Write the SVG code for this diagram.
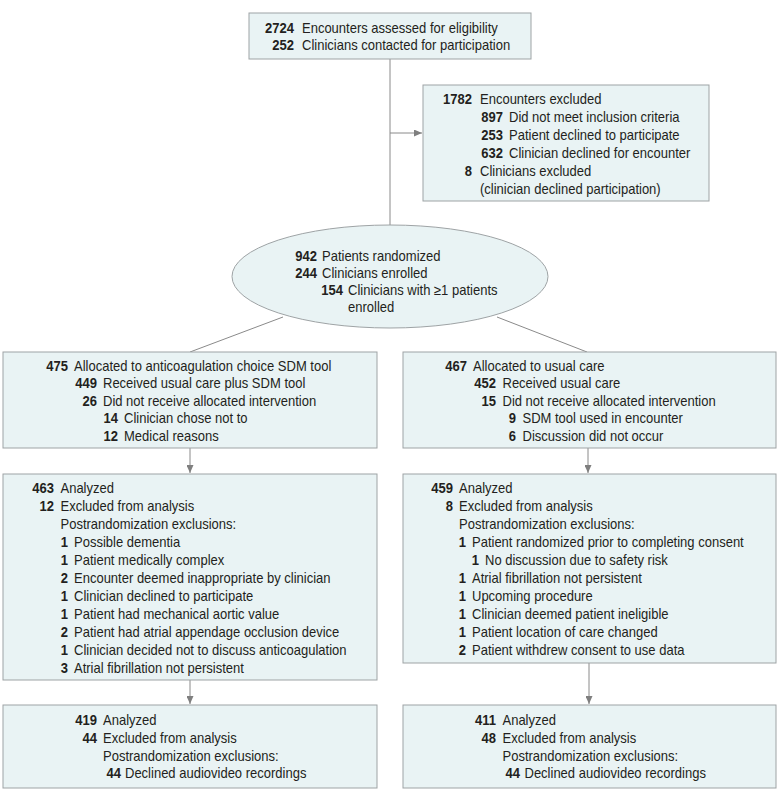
<svg xmlns="http://www.w3.org/2000/svg" width="780" height="802" viewBox="0 0 780 802">
<style>
.box{fill:#e9f3f4;stroke:#9ea3a5;stroke-width:1}
text{font-family:"Liberation Sans",Arial,sans-serif;font-size:14px;fill:#231f20;transform-box:fill-box;transform-origin:0% 50%;transform:scaleX(0.93)}
.n{font-weight:bold;text-anchor:end;transform-origin:100% 50%}
.c{stroke:#8a8a8a;stroke-width:1;fill:none}
</style>
<defs>
<marker id="ah" markerUnits="userSpaceOnUse" markerWidth="8" markerHeight="7" refX="8" refY="3.5" orient="auto">
<path d="M0,0 L8,3.5 L0,7 z" fill="#7f7f7f"/>
</marker>
</defs>
<rect width="780" height="802" fill="#ffffff"/>
<g id="connectors">
<line class="c" x1="390" y1="59" x2="390" y2="225"/>
<line class="c" x1="390" y1="133" x2="422" y2="133" marker-end="url(#ah)"/>
<line class="c" x1="283" y1="317" x2="190" y2="352"/>
<line class="c" x1="497" y1="317" x2="587" y2="352"/>
<line class="c" x1="190" y1="448" x2="190" y2="473" marker-end="url(#ah)"/>
<line class="c" x1="588" y1="448" x2="588" y2="473" marker-end="url(#ah)"/>
<line class="c" x1="190" y1="680" x2="190" y2="704" marker-end="url(#ah)"/>
<line class="c" x1="589" y1="663" x2="589" y2="704" marker-end="url(#ah)"/>
</g>
<g id="assessed">
<rect class="box" x="249" y="13" width="282" height="46"/>
<text class="n" x="294" y="33">2724</text><text x="302" y="33">Encounters assessed for eligibility</text>
<text class="n" x="294" y="50">252</text><text x="302" y="50">Clinicians contacted for participation</text>
</g>
<g id="excluded">
<rect class="box" x="423" y="85" width="286" height="116"/>
<text class="n" x="472" y="104">1782</text><text x="480" y="104">Encounters excluded</text>
<text class="n" x="503" y="122">897</text><text x="509" y="122">Did not meet inclusion criteria</text>
<text class="n" x="503" y="140">253</text><text x="509" y="140">Patient declined to participate</text>
<text class="n" x="503" y="158">632</text><text x="509" y="158">Clinician declined for encounter</text>
<text class="n" x="472" y="176">8</text><text x="480" y="176">Clinicians excluded</text>
<text x="480" y="194">(clinician declined participation)</text>
</g>
<g id="randomized">
<ellipse class="box" cx="390" cy="276.5" rx="158" ry="51.5"/>
<text class="n" x="317" y="261">942</text><text x="322" y="261">Patients randomized</text>
<text class="n" x="317" y="278">244</text><text x="322" y="278">Clinicians enrolled</text>
<text class="n" x="343" y="295">154</text><text x="348" y="295">Clinicians with ≥1 patients</text>
<text x="348" y="312">enrolled</text>
</g>
<g id="alloc-sdm">
<rect class="box" x="3" y="352" width="374" height="96"/>
<text class="n" x="68" y="371">475</text><text x="74" y="371">Allocated to anticoagulation choice SDM tool</text>
<text class="n" x="97" y="388.5">449</text><text x="103" y="388.5">Received usual care plus SDM tool</text>
<text class="n" x="97" y="406">26</text><text x="103" y="406">Did not receive allocated intervention</text>
<text class="n" x="118" y="423.5">14</text><text x="124" y="423.5">Clinician chose not to</text>
<text class="n" x="118" y="441">12</text><text x="124" y="441">Medical reasons</text>
</g>
<g id="alloc-usual">
<rect class="box" x="403" y="352" width="373" height="96"/>
<text class="n" x="467" y="371">467</text><text x="473" y="371">Allocated to usual care</text>
<text class="n" x="496" y="388.5">452</text><text x="502.5" y="388.5">Received usual care</text>
<text class="n" x="496" y="406">15</text><text x="502.5" y="406">Did not receive allocated intervention</text>
<text class="n" x="516" y="423.5">9</text><text x="522.5" y="423.5">SDM tool used in encounter</text>
<text class="n" x="516" y="441">6</text><text x="522.5" y="441">Discussion did not occur</text>
</g>
<g id="analyzed-sdm">
<rect class="box" x="3" y="474" width="374" height="206"/>
<text class="n" x="54" y="493">463</text><text x="60.5" y="493">Analyzed</text>
<text class="n" x="54" y="511">12</text><text x="60.5" y="511">Excluded from analysis</text>
<text x="60.5" y="529">Postrandomization exclusions:</text>
<text class="n" x="68" y="547">1</text><text x="74" y="547">Possible dementia</text>
<text class="n" x="68" y="565">1</text><text x="74" y="565">Patient medically complex</text>
<text class="n" x="68" y="583">2</text><text x="74" y="583">Encounter deemed inappropriate by clinician</text>
<text class="n" x="68" y="601">1</text><text x="74" y="601">Clinician declined to participate</text>
<text class="n" x="68" y="619">1</text><text x="74" y="619">Patient had mechanical aortic value</text>
<text class="n" x="68" y="637">2</text><text x="74" y="637">Patient had atrial appendage occlusion device</text>
<text class="n" x="68" y="655">1</text><text x="74" y="655">Clinician decided not to discuss anticoagulation</text>
<text class="n" x="68" y="673">3</text><text x="74" y="673">Atrial fibrillation not persistent</text>
</g>
<g id="analyzed-usual">
<rect class="box" x="403" y="474" width="373" height="189"/>
<text class="n" x="453" y="493">459</text><text x="459" y="493">Analyzed</text>
<text class="n" x="453" y="511">8</text><text x="459" y="511">Excluded from analysis</text>
<text x="459" y="529">Postrandomization exclusions:</text>
<text class="n" x="466" y="547">1</text><text x="472" y="547">Patient randomized prior to completing consent</text>
<text class="n" x="479" y="565">1</text><text x="485" y="565">No discussion due to safety risk</text>
<text class="n" x="466" y="583">1</text><text x="472" y="583">Atrial fibrillation not persistent</text>
<text class="n" x="466" y="601">1</text><text x="472" y="601">Upcoming procedure</text>
<text class="n" x="466" y="619">1</text><text x="472" y="619">Clinician deemed patient ineligible</text>
<text class="n" x="466" y="637">1</text><text x="472" y="637">Patient location of care changed</text>
<text class="n" x="466" y="655">2</text><text x="472" y="655">Patient withdrew consent to use data</text>
</g>
<g id="final-sdm">
<rect class="box" x="3" y="705" width="374" height="83"/>
<text class="n" x="97" y="725">419</text><text x="103" y="725">Analyzed</text>
<text class="n" x="97" y="743">44</text><text x="103" y="743">Excluded from analysis</text>
<text x="103" y="761">Postrandomization exclusions:</text>
<text class="n" x="121" y="778.5">44</text><text x="125" y="778.5">Declined audiovideo recordings</text>
</g>
<g id="final-usual">
<rect class="box" x="403" y="705" width="373" height="83"/>
<text class="n" x="496" y="725">411</text><text x="502.5" y="725">Analyzed</text>
<text class="n" x="496" y="743">48</text><text x="502.5" y="743">Excluded from analysis</text>
<text x="502.5" y="761">Postrandomization exclusions:</text>
<text class="n" x="520" y="778.5">44</text><text x="524.5" y="778.5">Declined audiovideo recordings</text>
</g>
</svg>
